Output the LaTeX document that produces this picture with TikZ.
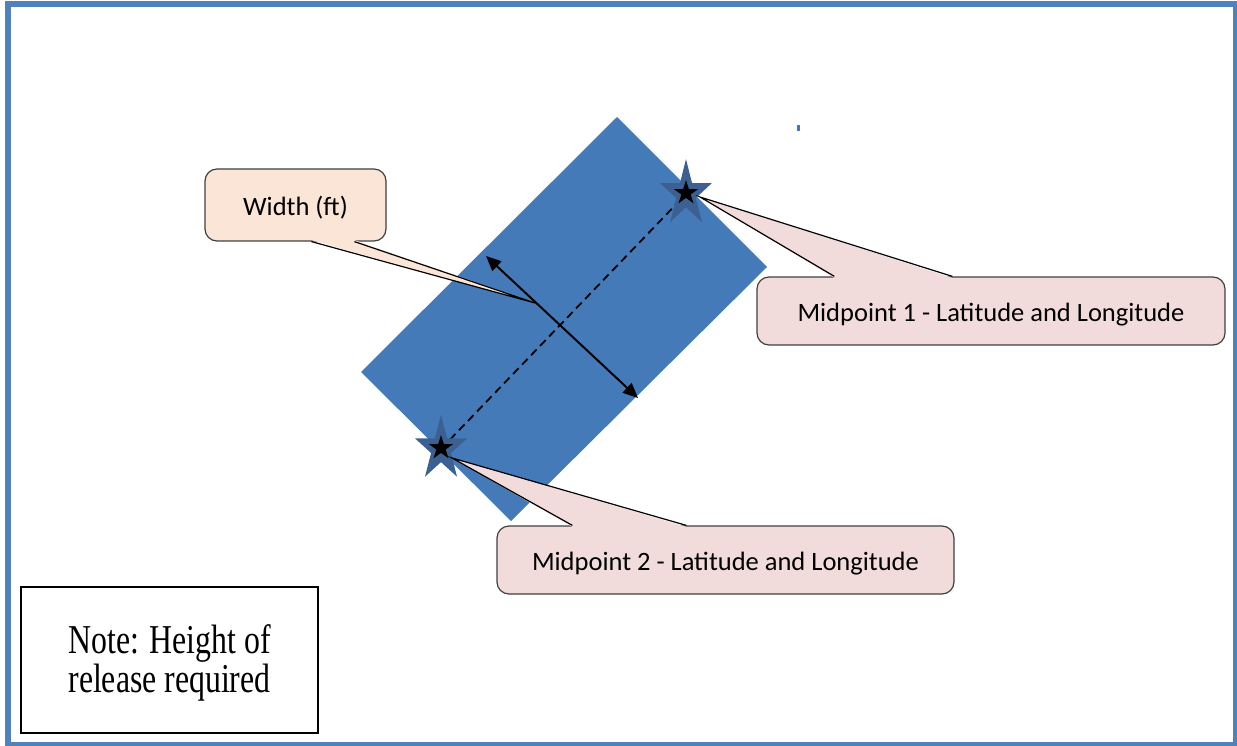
\documentclass[tikz,border=0pt]{standalone}
\usepackage{fontspec}
\setmainfont{Liberation Serif}
\newfontfamily\calfont{Carlito}
\usetikzlibrary{arrows.meta,calc}
\definecolor{framecol}{RGB}{79,129,189}
\definecolor{rectcol}{RGB}{69,122,185}
\definecolor{starcol}{RGB}{60,96,146}
\definecolor{peach}{RGB}{251,229,214}
\definecolor{pinkf}{RGB}{242,220,219}
\definecolor{edgecol}{RGB}{64,64,64}
\tikzset{
  pics/starpic/.style args={#1/#2}{code={%
    \fill (0,{-#2}) \foreach \k in {1,...,5}{ -- ({0.382*#1*cos(-126+72*\k)},{0.382*#2*sin(-126+72*\k)}) -- ({#1*cos(-90+72*\k)},{#2*sin(-90+72*\k)}) } -- cycle;}},
  callbox/.style={draw=edgecol, line width=1.2pt, rounded corners=12pt, inner sep=0pt,
    text height=21pt, text depth=0pt,
    font=\calfont\fontsize{26.5}{30}\selectfont, text=black},
  wedgeline/.style={draw=black, line width=1.2pt, line join=miter},
  notebox/.style={draw=black, line width=1.6pt, inner sep=0pt, minimum width=297pt, minimum height=146pt},
  dimarrow/.style={line width=2pt, {Triangle[length=15pt,width=13pt]}-{Triangle[length=15pt,width=13pt]}},
  centerline/.style={line width=1.8pt, dash pattern=on 8pt off 5pt}
}
\begin{document}
\begin{tikzpicture}[x=1pt,y=-1pt]
\useasboundingbox (0,0) rectangle (1237,746);
% frame
\draw[framecol, line width=5.5pt] (8.2,4) rectangle (1235.5,745);
% release area
\fill[rectcol] (617,117) -- (767,267) -- (511,521) -- (361,372) -- cycle;
\fill[rectcol] (797,125) rectangle (800,131);
% width callout
\node[callbox, fill=peach, minimum width=181pt, minimum height=72pt] (wbox) at (295.5,205) {Width (ft)};
\coordinate (wtip) at (535,303);
\coordinate (wb1) at ($(wbox.south west)+(107,-1.5)$);
\coordinate (wb2) at ($(wbox.south west)+(150,-1.5)$);
\fill[peach] (wb1) -- (wtip) -- (wb2) -- cycle;
\draw[wedgeline] ($(wb1)+(0,1.5)$) -- (wtip) -- ($(wb2)+(0,1.5)$);
% centre line and width arrow
\coordinate (s1) at (686,194);
\coordinate (s2) at (441,449);
\coordinate (c1) at (686,193);
\coordinate (c2) at (441,448);
\draw[centerline] (s2) -- (s1);
\coordinate (a1) at (486,256);
\coordinate (a2) at (638,398);
\draw[dimarrow] (a1) -- (a2);
% stars
\pic[starcol] at (s1) {starpic=27/34.8};
\pic[black] at (c1) {starpic=12.8/12.8};
\pic[starcol] at (s2) {starpic=27.3/34.3};
\pic[black] at (c2) {starpic=12.8/12.8};
% midpoint 1 callout
\node[callbox, fill=pinkf, minimum width=468pt, minimum height=68pt] (mp1) at (991,311) {Midpoint 1 - Latitude and Longitude};
\coordinate (m1tip) at (700,197);
\coordinate (m1b1) at ($(mp1.north west)+(78,1.5)$);
\coordinate (m1b2) at ($(mp1.north west)+(196,1.5)$);
\fill[pinkf] (m1b1) -- (m1tip) -- (m1b2) -- cycle;
\draw[wedgeline] ($(m1b1)+(0,-1.5)$) -- (m1tip) -- ($(m1b2)+(0,-1.5)$);
% midpoint 2 callout
\node[callbox, fill=pinkf, minimum width=457pt, minimum height=68pt] (mp2) at (725.5,560) {Midpoint 2 - Latitude and Longitude};
\coordinate (m2tip) at (452,458);
\coordinate (m2b1) at ($(mp2.north west)+(76,1.5)$);
\coordinate (m2b2) at ($(mp2.north west)+(190,1.5)$);
\fill[pinkf] (m2b1) -- (m2tip) -- (m2b2) -- cycle;
\draw[wedgeline] ($(m2b1)+(0,-1.5)$) -- (m2tip) -- ($(m2b2)+(0,-1.5)$);
% note
\node[notebox] (note) at (169.5,660) {};
\node[inner sep=0pt] (notetext) at (169.5,664) {\scalebox{1}[1.29]{\fontsize{31.8}{27.2}\selectfont\begin{tabular}{@{}c@{}}Note: Height of\\release required\end{tabular}}};
\end{tikzpicture}
\end{document}
